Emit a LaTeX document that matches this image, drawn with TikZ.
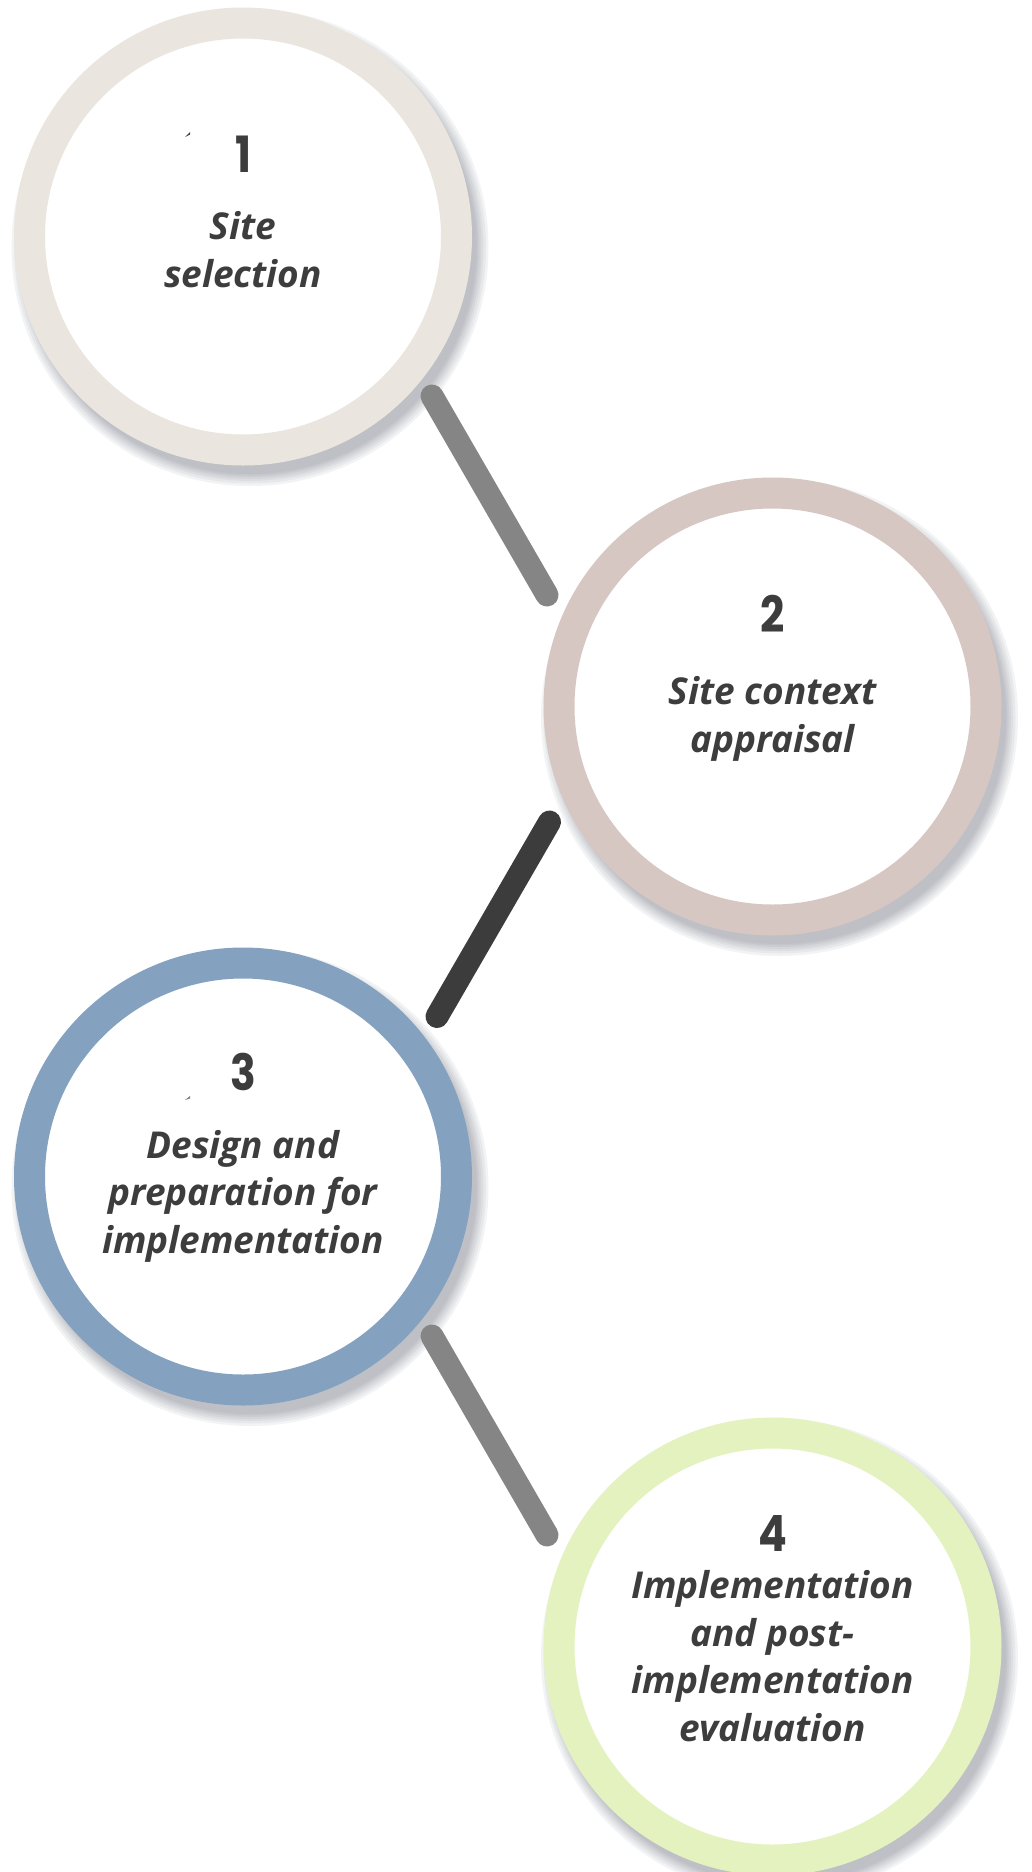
\documentclass[tikz,border=0pt]{standalone}
\usepackage{fontspec}
\setmainfont{Open Sans}
\newfontfamily\numfont{Poppins}
\usetikzlibrary{calc}
\definecolor{ringA}{HTML}{EAE6DF}
\definecolor{ringB}{HTML}{D7C7C3}
\definecolor{ringC}{HTML}{84A2C0}
\definecolor{ringD}{HTML}{E4F2C0}
\definecolor{connLight}{HTML}{858585}
\definecolor{connDark}{HTML}{3C3C3C}
\definecolor{txt}{HTML}{3D3D3D}
\definecolor{shade}{HTML}{8E939C}
\tikzset{
  ring/.style={circle, draw=#1, line width=31pt, minimum size=427pt, inner sep=0pt, outer sep=0pt, fill=white},
  shadowring/.style={draw=shade, line width=#1, draw opacity=0.11},
  conn/.style={draw=#1, line width=23pt, line cap=round},
  num/.style={text=txt, inner sep=0pt, font=\numfont\bfseries\fontsize{50}{50}\selectfont},
  lbl/.style={text=txt, inner sep=0pt, align=center, anchor=base, font=\bfseries\itshape\fontsize{37}{47.7}\selectfont},
  tick/.style={fill=#1, draw=none}
}
\begin{document}
\begin{tikzpicture}[x=1pt,y=-1pt]
\clip (0,0) rectangle (1032,1872);
\fill[white] (0,0) rectangle (1032,1872);
% centres
\coordinate (c1) at (243,236.5);
\coordinate (c2) at (772.5,706.5);
\coordinate (c3) at (243,1176.5);
\coordinate (c4) at (772.5,1646.5);
% shadows
\foreach \c in {c1,c2,c3,c4}{
  \foreach \w in {55,50,45,41,37,34,31}{
    \draw[shadowring=\w pt] ($(\c)+(7,11)$) circle[radius=211];
  }
}
% rings
\node[ring=ringA] (r1) at (c1) {};
\node[ring=ringB] (r2) at (c2) {};
\node[ring=ringC] (r3) at (c3) {};
\node[ring=ringD] (r4) at (c4) {};
% connector ends
\coordinate (a1) at ($(r1.center)+(189,159.5)$);
\coordinate (b1) at ($(r2.center)+(-225.5,-111.5)$);
\coordinate (a2) at ($(r2.center)+(-223,115.5)$);
\coordinate (b2) at ($(r3.center)+(194,-160)$);
\coordinate (a3) at ($(r3.center)+(189,159.5)$);
\coordinate (b3) at ($(r4.center)+(-225.5,-111.5)$);
\draw[conn=connLight] (a1) -- (b1);
\draw[conn=connDark] (a2) -- (b2);
\draw[conn=connLight] (a3) -- (b3);
% numbers
\node[num] (n1) at ($(r1.center)+(0,-82.5)$) {\scalebox{0.85}[1]{1}};
\node[num] (n2) at ($(r2.center)+(0,-92.8)$) {\scalebox{0.85}[1]{2}};
\node[num] (n3) at ($(r3.center)+(0,-104.5)$) {\scalebox{0.85}[1]{3}};
\node[num] (n4) at ($(r4.center)+(0,-113.5)$) {\scalebox{0.85}[1]{4}};
% labels (anchored at the baseline of the last line)
\node[lbl] (l1) at ($(r1.center)+(0,50.5)$) {Site\\selection};
\node[lbl] (l2) at ($(r2.center)+(0,46)$) {Site context\\appraisal};
\node[lbl] (l3) at ($(r3.center)+(0,77)$) {Design and\\preparation for\\implementation};
\node[lbl] (l4) at ($(r4.center)+(0,95)$) {Implementation\\and post-\\implementation\\evaluation};
% small marks
\fill[tick=txt] (185,137) -- (190,132) -- (190,134.5) -- cycle;
\fill[tick=gray] (185,1100) -- (190,1096) -- (190,1098.5) -- cycle;
\end{tikzpicture}
\end{document}
